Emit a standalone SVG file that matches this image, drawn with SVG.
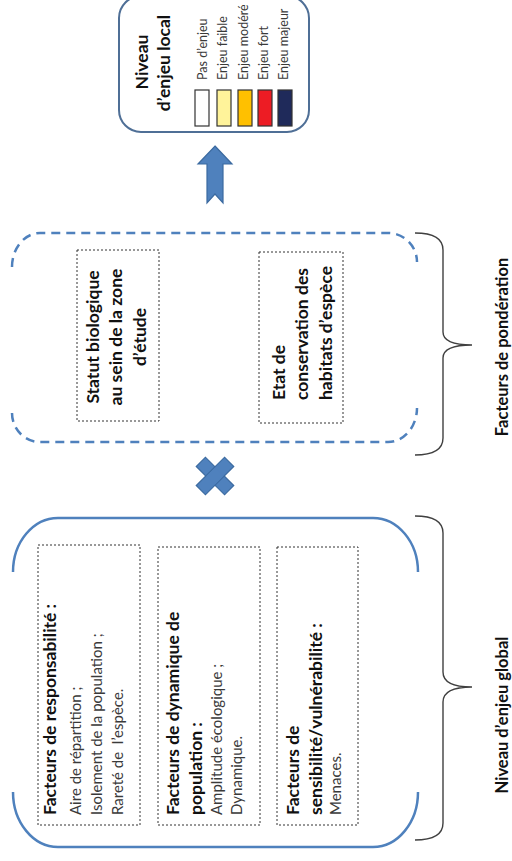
<svg xmlns="http://www.w3.org/2000/svg" width="512" height="861" viewBox="0 0 512 861">
<style>
.bt{font-family:Lato,"Open Sans","Liberation Sans",sans-serif;font-weight:bold;font-size:17.5px;fill:#111}
.rt{font-family:Lato,"Open Sans","Liberation Sans",sans-serif;font-size:15px;fill:#3a3a3a}
.lg{font-family:Lato,"Open Sans","Liberation Sans",sans-serif;font-size:12.5px;fill:#3a3a3a}
.lab{font-family:Lato,"Open Sans","Liberation Sans",sans-serif;font-weight:bold;font-size:16.5px;fill:#111}
.dot{fill:none;stroke:#333;stroke-width:1;stroke-dasharray:2 2}
.solid{fill:none;stroke:#4f81bd;stroke-width:2.5}
.dash{fill:none;stroke:#4f81bd;stroke-width:2.5;stroke-dasharray:9 6}
.brace{fill:none;stroke:#404040;stroke-width:1.4}
.sw{stroke:#333;stroke-width:1.2}
.shape{fill:#4f81bd;stroke:#3b6aa0;stroke-width:1.2}
</style>
<rect width="512" height="861" fill="#fff"/>

<g id="legend">
<rect x="119" y="-4" width="190" height="136" rx="22" ry="22" fill="#fff" stroke="#4f6f96" stroke-width="2"/>
<text class="bt" font-size="18.5" text-anchor="middle" transform="translate(148,62) rotate(-90)">Niveau</text>
<text class="bt" font-size="18.5" text-anchor="middle" transform="translate(170,63) rotate(-90)">d’enjeu local</text>
<rect class="sw" x="195" y="90" width="14" height="36" fill="#ffffff"/>
<rect class="sw" x="217" y="90" width="14" height="36" fill="#fff39a"/>
<rect class="sw" x="238" y="90" width="14" height="36" fill="#ffc000"/>
<rect class="sw" x="258" y="90" width="14" height="36" fill="#ed1c24"/>
<rect class="sw" x="278" y="90" width="14" height="36" fill="#1f2a5a"/>
<text class="lg" transform="translate(207,80) rotate(-90)">Pas d’enjeu</text>
<text class="lg" transform="translate(227,80) rotate(-90)">Enjeu faible</text>
<text class="lg" transform="translate(248,80) rotate(-90)">Enjeu modéré</text>
<text class="lg" transform="translate(268,80) rotate(-90)">Enjeu fort</text>
<text class="lg" transform="translate(288,80) rotate(-90)">Enjeu majeur</text>
</g>

<g id="ponderation">
<path class="dash" d="M12,267 A28,34 0 0 1 40,233 L388,233 A29,29 0 0 1 417,262"/>
<path class="dash" d="M12,413 A28,29 0 0 0 40,442 L388,442 A29,34 0 0 0 417,408"/>
<g id="statut">
<rect class="dot" x="77" y="250" width="82" height="171"/>
<text class="bt" text-anchor="middle" transform="translate(99,337) rotate(-90)">Statut biologique</text>
<text class="bt" text-anchor="middle" transform="translate(122,337) rotate(-90)">au sein de la zone</text>
<text class="bt" text-anchor="middle" transform="translate(146,337) rotate(-90)">d’étude</text>
</g>
<g id="etat">
<rect class="dot" x="259" y="252" width="84" height="171"/>
<text class="bt" transform="translate(285,400) rotate(-90)">Etat de</text>
<text class="bt" transform="translate(308,400) rotate(-90)">conservation des</text>
<text class="bt" transform="translate(332,400) rotate(-90)">habitats d’espèce</text>
</g>
</g>

<g id="global">
<path class="solid" d="M13,572 A45,54 0 0 1 58,518 L373,518 A45,54 0 0 1 418,572"/>
<path class="solid" d="M13,792 A45,55 0 0 0 58,847 L373,847 A45,55 0 0 0 418,792"/>
<g id="responsabilite">
<rect class="dot" x="38" y="545" width="102" height="280"/>
<text class="bt" transform="translate(56,815) rotate(-90)">Facteurs de responsabilité :</text>
<text class="rt" transform="translate(81,815) rotate(-90)">Aire de répartition ;</text>
<text class="rt" transform="translate(102,815) rotate(-90)">Isolement de la population ;</text>
<text class="rt" transform="translate(123,815) rotate(-90)">Rareté de&#160; l’espèce.</text>
</g>
<g id="dynamique">
<rect class="dot" x="158" y="547" width="102" height="278"/>
<text class="bt" transform="translate(179,815) rotate(-90)">Facteurs de dynamique de</text>
<text class="bt" transform="translate(202,815) rotate(-90)">population :</text>
<text class="rt" transform="translate(222,815) rotate(-90)">Amplitude écologique ;</text>
<text class="rt" transform="translate(242,815) rotate(-90)">Dynamique.</text>
</g>
<g id="sensibilite">
<rect class="dot" x="277" y="547" width="81" height="278"/>
<text class="bt" transform="translate(299,815) rotate(-90)">Facteurs de</text>
<text class="bt" transform="translate(322,815) rotate(-90)">sensibilité/vulnérabilité :</text>
<text class="rt" transform="translate(341,815) rotate(-90)">Menaces.</text>
</g>
</g>

<g id="connectors">
<polygon class="shape" points="215,146 232,164 223,164 223,203 215,194 207,203 207,164 198,164"/>
<g transform="translate(215,476)">
<rect class="shape" x="-20" y="-6.5" width="40" height="13" transform="rotate(45)"/>
<rect class="shape" x="-20" y="-6.5" width="40" height="13" transform="rotate(-45)"/>
<rect x="-6" y="-6" width="12" height="12" fill="#4f81bd" transform="rotate(45)"/>
</g>
<path class="brace" d="M415,233 Q443,233 443,250 L443,332 Q443,345 472,345 Q443,345 443,358 L443,438 Q443,455 415,455"/>
<path class="brace" d="M415,516 Q443,516 443,533 L443,672 Q443,687 472,687 Q443,687 443,702 L443,823 Q443,840 415,840"/>
</g>

<g id="labels">
<text class="lab" text-anchor="middle" transform="translate(508,347) rotate(-90)">Facteurs de pondération</text>
<text class="lab" font-size="18" text-anchor="middle" transform="translate(508,715) rotate(-90)">Niveau d’enjeu global</text>
</g>
</svg>
